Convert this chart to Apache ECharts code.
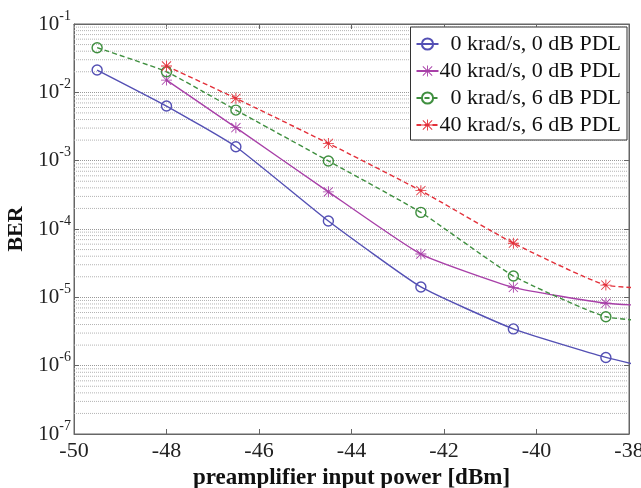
<!DOCTYPE html>
<html><head><meta charset="utf-8">
<script src="https://cdn.jsdelivr.net/npm/echarts@6/dist/echarts.min.js"></script>
<style>html,body{margin:0;padding:0;background:#fff}#c{width:641px;height:488px}</style>
</head><body><div id="c"></div>
<script>
const names = ['0 krad/s, 0 dB PDL', '40 krad/s, 0 dB PDL', '0 krad/s, 6 dB PDL', '40 krad/s, 6 dB PDL'];
const xBlue = [-49.5, -48, -46.5, -44.5, -42.5, -40.5, -38.5, -36.5];
const yBlue = [0.0212, 0.0063, 0.0016, 1.31e-4, 1.42e-5, 3.45e-6, 1.32e-6, 6.5e-7];
const xMag = [-48, -46.5, -44.5, -42.5, -40.5, -38.5, -36.5];
const yMag = [0.0151, 0.00304, 3.5e-4, 4.3e-5, 1.40e-5, 8.2e-6, 7.0e-6];
const xGreen = [-49.5, -48, -46.5, -44.5, -42.5, -40.5, -38.5, -36.5];
const yGreen = [0.045, 0.020, 0.0055, 9.9e-4, 1.75e-4, 2.05e-5, 5.2e-6, 4.1e-6];
const xRed = [-48, -46.5, -44.5, -42.5, -40.5, -38.5, -36.5];
const yRed = [0.0243, 0.00817, 0.00179, 3.64e-4, 6.2e-5, 1.51e-5, 1.3e-5];
const xTicks = [-50, -48, -46, -44, -42, -40, -38];

const colors = ['#5450b4', '#a840a8', '#3f8f3f', '#e3303a'];
const star = 'path://M9.2,0 L10.8,0 L10.8,20 L9.2,20 Z M0,9.2 L20,9.2 L20,10.8 L0,10.8 Z M2.2,1.1 L18.9,17.8 L17.8,18.9 L1.1,2.2 Z M17.8,1.1 L18.9,2.2 L2.2,18.9 L1.1,17.8 Z';
const FONT = '"Liberation Serif", "Times New Roman", serif';

function pairs(xs, ys) { return xs.map((x, i) => [x, ys[i]]); }

const minorSeries = [];
for (let k = -7; k <= -2; k++) for (let m = 2; m <= 9; m++) {
  const v = m * Math.pow(10, k);
  minorSeries.push({
    type: 'line', data: [[-50, v], [-38, v]], z: 1, silent: true, showSymbol: false,
    lineStyle: { color: '#b4b4b4', type: [1, 1], width: 1 }, emphasis: { disabled: true }
  });
}

function mk(i, xs, ys, sym, dashed) {
  const circle = sym === 'circle';
  return {
    name: names[i], type: 'line', data: pairs(xs, ys), z: 5,
    smooth: 0.15, clip: true,
    symbol: circle ? 'circle' : star,
    symbolSize: circle ? 10 : 11,
    lineStyle: { color: colors[i], width: 1.4, type: dashed ? [5, 3] : 'solid' },
    itemStyle: circle ? { color: 'rgba(255,255,255,0)', borderColor: colors[i], borderWidth: 1.4 }
                      : { color: colors[i], borderWidth: 0 },
    emphasis: { disabled: true }
  };
}

const chart = echarts.init(document.getElementById('c'), null, { renderer: 'canvas' });
chart.setOption({
  animation: false,
  backgroundColor: '#fff',
  grid: { left: 74, right: 12, top: 24, bottom: 54, show: true, borderColor: '#666', borderWidth: 1,
          containLabel: false, outerBoundsMode: 'none' },
  legend: {
    right: 14, top: 27, orient: 'vertical',
    backgroundColor: '#fff', borderColor: '#333', borderWidth: 1,
    padding: [6, 6, 4, 5], itemGap: 5, itemWidth: 22, itemHeight: 14,
    data: names,
    formatter: n => n.startsWith('0') ? '  ' + n : n,
    textStyle: { fontFamily: FONT, fontSize: 22, color: '#111', padding: [0, 0, 0, -4] }
  },
  xAxis: [{
    type: 'value', min: -50, max: -38, interval: 2,
    name: 'preamplifier input power [dBm]', nameLocation: 'middle', nameGap: 27,
    nameTextStyle: { fontFamily: FONT, fontSize: 23, fontWeight: 'bold', color: '#111' },
    axisLine: { lineStyle: { color: '#666' } },
    axisTick: { inside: true, length: 5, lineStyle: { color: '#666' } },
    axisLabel: { fontFamily: FONT, fontSize: 22, color: '#222', margin: 6 },
    splitLine: { show: false }
  }, {
    type: 'value', min: -50, max: -38, interval: 2, position: 'top',
    axisLine: { lineStyle: { color: '#666' } },
    axisTick: { inside: true, length: 5, lineStyle: { color: '#666' } },
    axisLabel: { show: false }, splitLine: { show: false }
  }],
  yAxis: [{
    type: 'log', logBase: 10, min: 1e-7, max: 1e-1,
    name: 'BER', nameLocation: 'middle', nameGap: 40,
    nameTextStyle: { fontFamily: FONT, fontSize: 22, fontWeight: 'bold', color: '#111' },
    axisLine: { lineStyle: { color: '#666' } },
    axisTick: { inside: true, length: 5, lineStyle: { color: '#666' } },
    axisLabel: {
      margin: 3,
      formatter: v => '{b|10}{s|' + Math.round(Math.log10(v)) + '}',
      rich: {
        b: { fontFamily: FONT, fontSize: 21, color: '#222' },
        s: { fontFamily: FONT, fontSize: 14, color: '#222', padding: [0, 0, 16, 0] }
      }
    },
    splitLine: { show: true, lineStyle: { color: '#999', type: [1, 1], width: 1 } }
  }, {
    type: 'log', logBase: 10, min: 1e-7, max: 1e-1, position: 'right',
    axisLine: { lineStyle: { color: '#666' } },
    axisTick: { inside: true, length: 5, lineStyle: { color: '#666' } },
    axisLabel: { show: false }, splitLine: { show: false }
  }],
  series: minorSeries.concat([
    mk(0, xBlue, yBlue, 'circle', false),
    mk(1, xMag, yMag, 'star', false),
    mk(2, xGreen, yGreen, 'circle', true),
    mk(3, xRed, yRed, 'star', true)
  ])
});
</script></body></html>
